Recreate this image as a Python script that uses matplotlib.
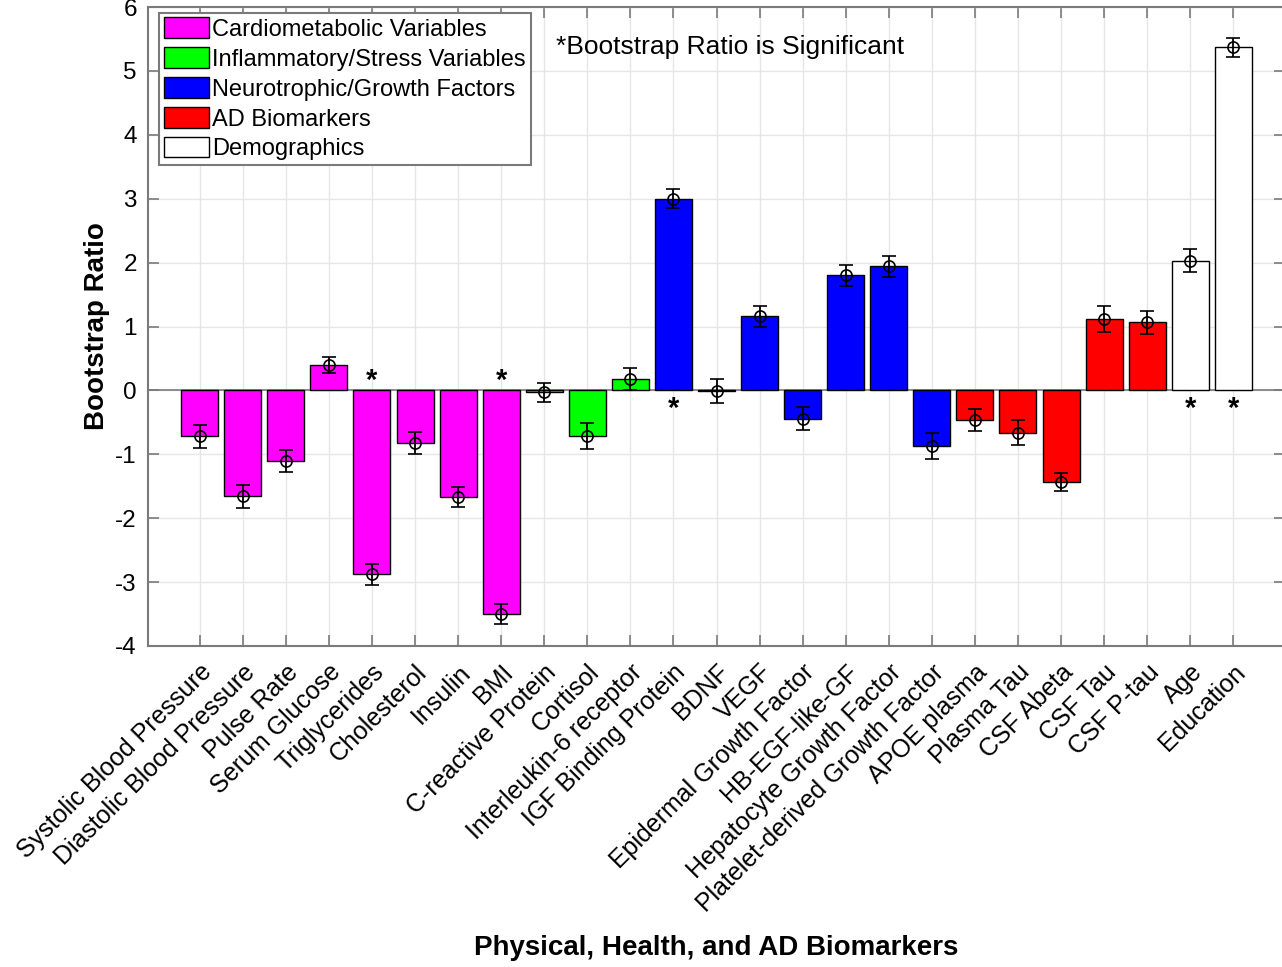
import matplotlib.pyplot as plt
from matplotlib.patches import Patch
import numpy as np

plt.rcParams['font.family'] = ['Liberation Sans', 'DejaVu Sans']
plt.rcParams['axes.unicode_minus'] = False

variaveis = ['Systolic Blood Pressure', 'Diastolic Blood Pressure', 'Pulse Rate',
             'Serum Glucose', 'Triglycerides', 'Cholesterol', 'Insulin', 'BMI',
             'C-reactive Protein', 'Cortisol', 'Interleukin-6 receptor',
             'IGF Binding Protein', 'BDNF', 'VEGF', 'Epidermal Growth Factor',
             'HB-EGF-like-GF', 'Hepatocyte Growth Factor',
             'Platelet-derived Growth Factor', 'APOE plasma', 'Plasma Tau',
             'CSF Abeta', 'CSF Tau', 'CSF P-tau', 'Age', 'Education']
razao = [-0.72, -1.66, -1.11, 0.40, -2.88, -0.82, -1.67, -3.50,
         -0.03, -0.71, 0.18,
         3.00, -0.01, 1.16, -0.44, 1.80, 1.94, -0.87,
         -0.46, -0.66, -1.44, 1.12, 1.07,
         2.03, 5.37]
erro = [0.18, 0.18, 0.17, 0.13, 0.16, 0.17, 0.16, 0.16,
        0.15, 0.20, 0.17,
        0.15, 0.19, 0.16, 0.18, 0.17, 0.17, 0.20,
        0.17, 0.20, 0.14, 0.20, 0.18,
        0.18, 0.15]
grupo = [0] * 8 + [1] * 3 + [2] * 7 + [3] * 5 + [4] * 2
significativo = ['Triglycerides', 'BMI', 'IGF Binding Protein', 'Age', 'Education']

grupos = ['Cardiometabolic Variables', 'Inflammatory/Stress Variables',
          'Neurotrophic/Growth Factors', 'AD Biomarkers', 'Demographics']
cores = ['#ff00ff', '#00ff00', '#0000ff', '#ff0000', '#ffffff']

x = np.arange(1, len(variaveis) + 1)
cinza = '#7a7a7a'

fig = plt.figure(figsize=(12.82, 9.67), dpi=100)
ax = fig.add_axes([148 / 1282, 1 - 646 / 967, (1285 - 148) / 1282, (646 - 7) / 967])

ax.bar(x, razao, width=0.86, color=[cores[g] for g in grupo],
       edgecolor='black', linewidth=1.0, zorder=3)
ax.errorbar(x, razao, yerr=erro, fmt='o', mfc='none', mec='black', ms=8, mew=1.2,
            ecolor='black', elinewidth=1.3, capsize=5, capthick=1.3, zorder=4)

# asteriscos nos significativos
for xi, v, nome in zip(x, razao, variaveis):
    if nome in significativo:
        yy = 0.15 if v < 0 else -0.29
        ax.text(xi, yy, '*', ha='center', va='center', fontsize=21,
                fontweight='bold', zorder=5)

ax.axhline(0, color=cinza, linewidth=1.2, zorder=2)

ax.set_xlim(-0.2, 26.2)
ax.set_ylim(-4, 6)
ax.set_yticks(range(-4, 7))
ax.set_xticks(x)
ax.set_xticklabels(variaveis, rotation=45, ha='right', rotation_mode='anchor',
                   fontsize=18)
ax.tick_params(axis='y', labelsize=17.5, pad=8)
ax.tick_params(axis='x', pad=10)
ax.tick_params(direction='in', length=8, width=1.2, color=cinza,
               top=True, right=True)
for s in ax.spines.values():
    s.set_color(cinza)
    s.set_linewidth(1.5)
ax.grid(True, color='#e6e6e6', linewidth=1.0, zorder=0)
ax.set_axisbelow(True)

ax.set_ylabel('Bootstrap Ratio', fontsize=20, fontweight='bold', labelpad=4)
fig.text(716 / 1282, 1 - 948 / 967, 'Physical, Health, and AD Biomarkers',
         fontsize=20, fontweight='bold', ha='center', va='center')

ax.text(0.359, 0.937, '*Bootstrap Ratio is Significant', transform=ax.transAxes,
        fontsize=19, ha='left', va='center')

handles = [Patch(facecolor=c, edgecolor='black', linewidth=1.0) for c in cores]
leg = ax.legend(handles, grupos, loc='upper left', bbox_to_anchor=(0.01, 0.991),
                fontsize=17, handlelength=1.9, handleheight=0.95, handletextpad=0.15,
                labelspacing=0.28, borderpad=0.2, borderaxespad=0, fancybox=False,
                framealpha=1)
leg.get_frame().set_edgecolor(cinza)
leg.get_frame().set_linewidth(1.5)

fig.savefig('out.png', dpi=100)
